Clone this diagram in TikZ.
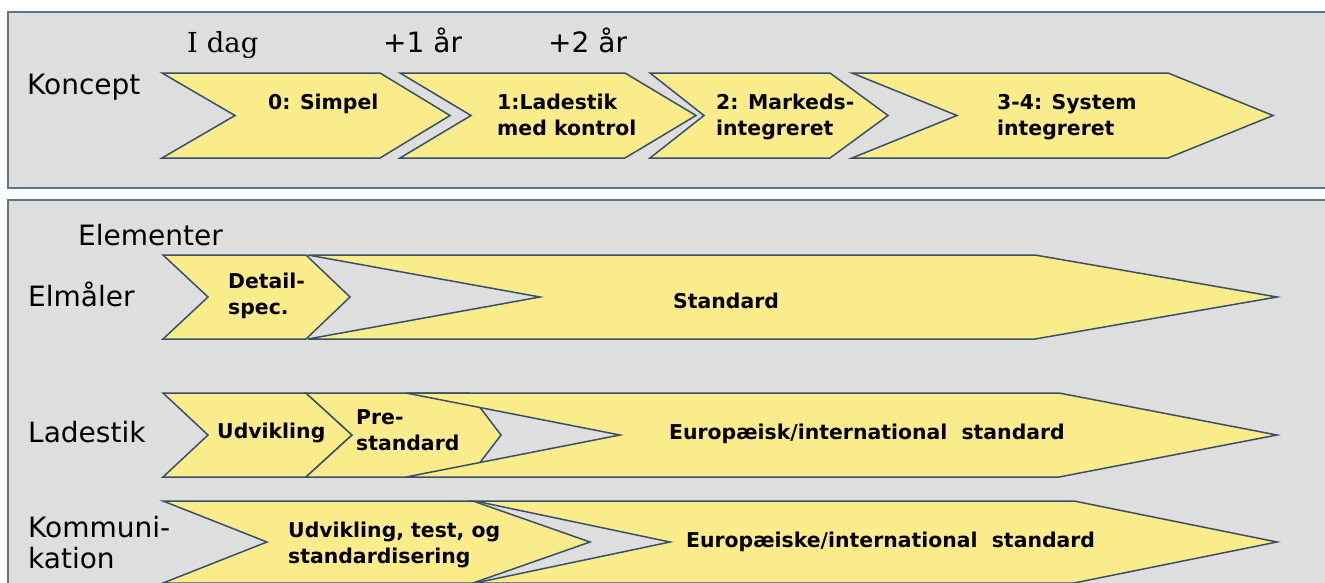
\documentclass[tikz,border=0pt]{standalone}
\usepackage{fontspec}
\setmainfont{DejaVu Sans}
\newfontfamily\serifface{DejaVu Serif}
\definecolor{chevfill}{HTML}{FBEC8B}
\definecolor{chevline}{HTML}{385066}
\definecolor{panelgray}{HTML}{DEDEDE}
\definecolor{panelline}{HTML}{5E7689}
\newcommand\chevshape[6]{\draw[shp] (#1,#5) -- (#3,#5) -- (#4,{(#5+#6)/2}) -- (#3,#6) -- (#1,#6) -- (#2,{(#5+#6)/2}) -- cycle;}
\newcommand\twol[2]{\vtop{\hbox{#1}\hbox{#2}}}
\begin{document}
\begin{tikzpicture}[x=1pt,y=-1pt,
  shp/.style={fill=chevfill,draw=chevline,line width=1.5pt,line join=miter},
  panel/.style={fill=panelgray,draw=panelline,line width=1.8pt},
  lbl/.style={font=\fontsize{28}{31}\selectfont,anchor=base west,inner sep=0pt},
  datelbl/.style={font=\serifface\fontsize{27.5}{31}\selectfont,anchor=base west,inner sep=0pt},
  txt/.style={font=\bfseries\fontsize{20.4}{26.5}\selectfont,anchor=base west,inner sep=0pt}]
\useasboundingbox (0,0) rectangle (1325,582);
\fill[white] (0,0) rectangle (1325,582);
% panels
\draw[panel] (8,12) rectangle (1345,188);
\draw[panel] (8,200) rectangle (1345,600);
% Koncept row
\chevshape{162}{235}{380}{450}{73}{158}
\chevshape{400}{471}{625}{696}{73}{158}
\chevshape{650}{704}{830}{888}{73}{158}
\chevshape{852}{957}{1168}{1273}{73}{158}
% Elmaaler row
\chevshape{163}{208}{306}{350}{255}{339}
\chevshape{308}{540}{1035}{1277}{255}{339}
% Ladestik row
\chevshape{163}{208}{306}{352}{393}{477}
\chevshape{306}{352}{469}{501}{393}{477}
\chevshape{406}{620}{1059}{1277}{393}{477}
% Kommunikation row
\chevshape{163}{267}{473}{590}{501}{583}
\chevshape{475}{670}{1074}{1277}{501}{583}
% labels
\node[datelbl] (idag) at (187,52) {I dag};
\node[lbl] (yr1) at (383,52) {+1 år};
\node[lbl] (yr2) at (548,52) {+2 år};
\node[lbl] (koncept) at (27,94) {Koncept};
\node[lbl] (elementer) at (78,245) {Elementer};
\node[lbl] (elmaaler) at (28,306) {Elmåler};
\node[lbl] (ladestik) at (28,442) {Ladestik};
\node[lbl] (kommun) at (28,537) {\twol{Kommuni-}{kation}};
% texts in shapes
\node[txt] (c0) at (268,109) {0: Simpel};
\node[txt] (c1) at (497,109) {\twol{1:Ladestik}{med kontrol}};
\node[txt] (c2) at (716,109) {\twol{2: Markeds-}{integreret}};
\node[txt] (c3) at (997,109) {\twol{3-4: System}{integreret}};
\node[txt] (detail) at (228,288) {\twol{Detail-}{spec.}};
\node[txt] (std) at (673,308) {Standard};
\node[txt] (udv) at (217,438) {Udvikling};
\node[txt] (pre) at (356,424) {\twol{Pre-}{standard}};
\node[txt] (euro1) at (669,439) {Europæisk/international\ \ standard};
\node[txt] (udvtest) at (288,537) {\twol{Udvikling, test, og}{standardisering}};
\node[txt] (euro2) at (686,547) {Europæiske/international\ \ standard};
\end{tikzpicture}
\end{document}
